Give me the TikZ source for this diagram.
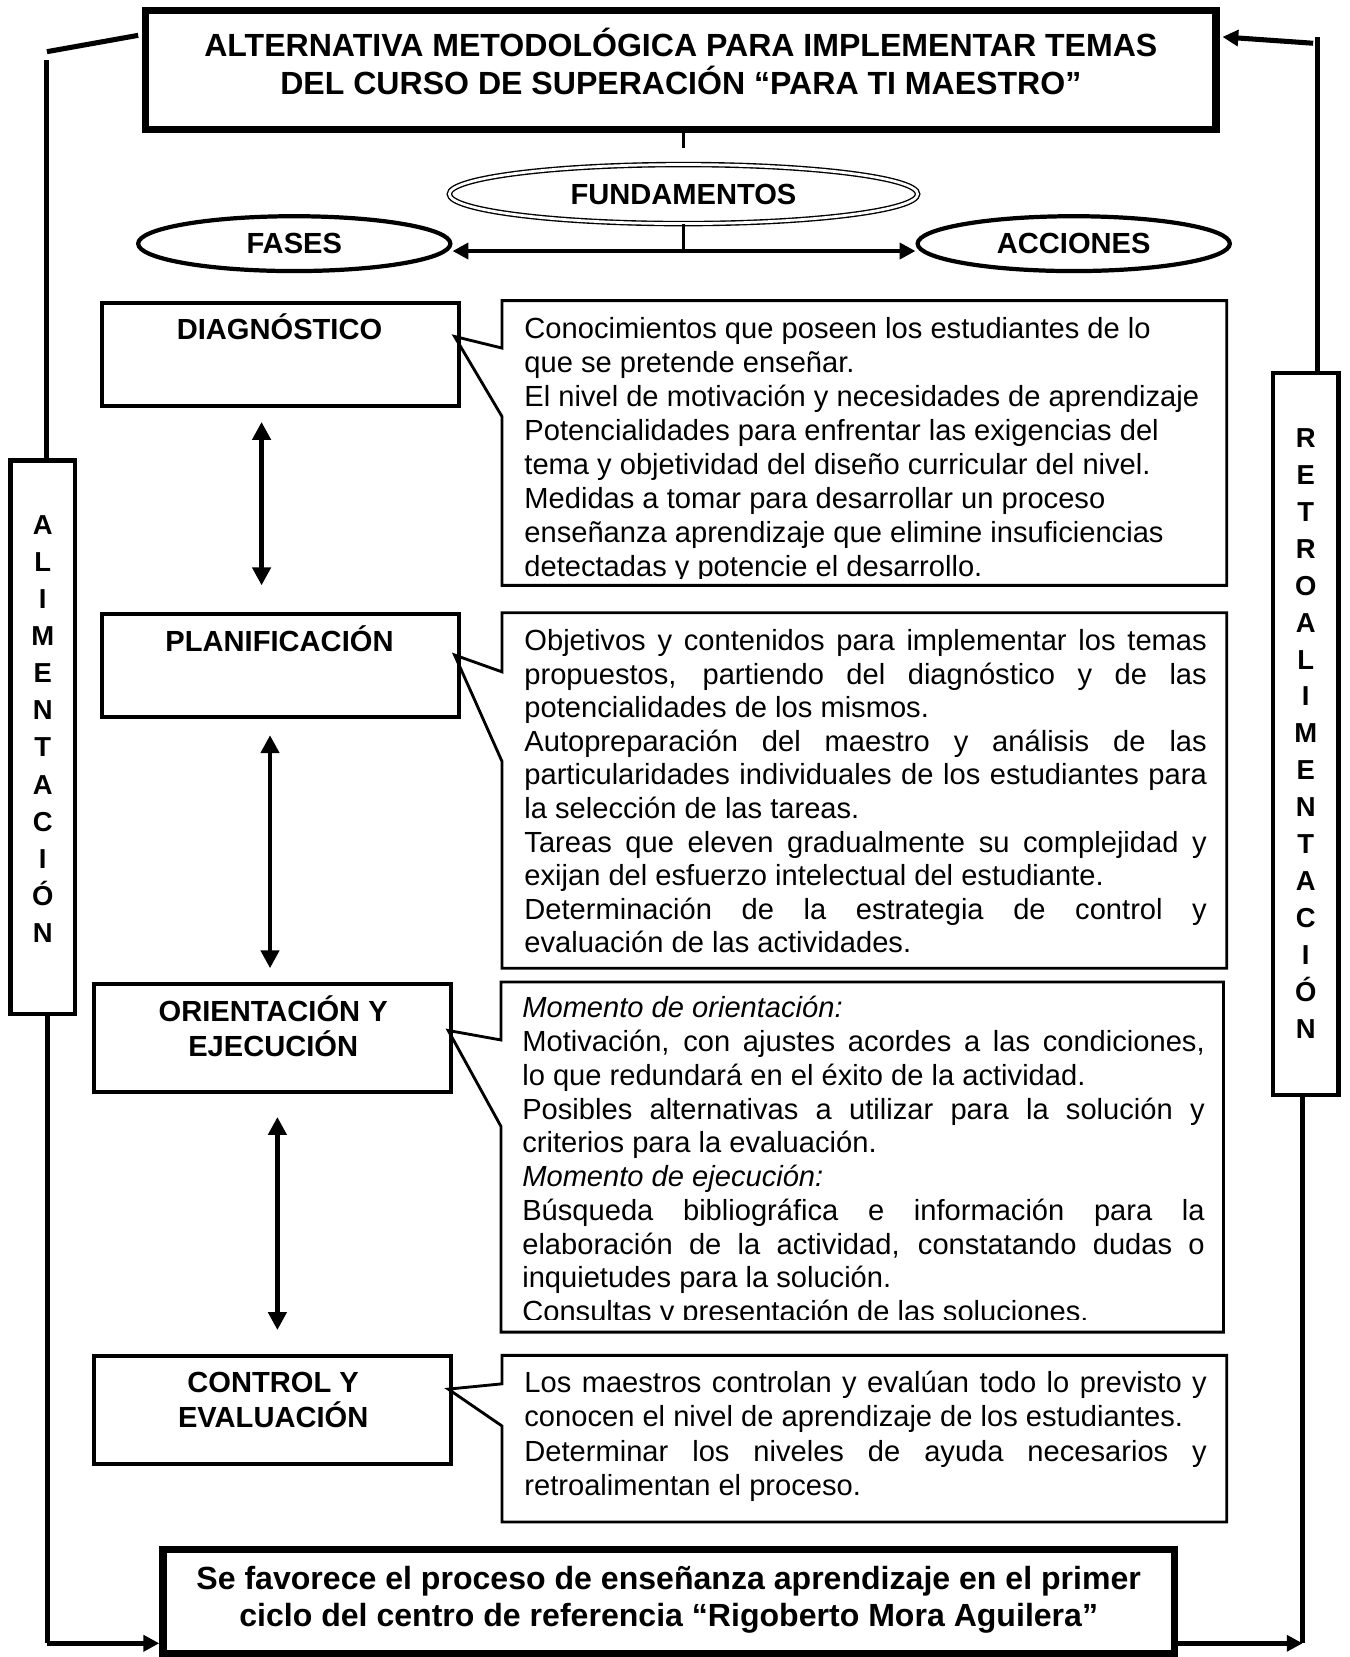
\documentclass[tikz,border=0pt]{standalone}
\usepackage{fontspec}
\setmainfont{Liberation Sans}
\usetikzlibrary{arrows.meta,shapes.geometric}
\newlength\cw
\setlength\cw{647pt}
\newcommand\jl[1]{\hbox to \cw{#1}}
\newcommand\rl[1]{\hbox{#1}}
\newcommand\il[1]{\hbox{\itshape #1}}
\newcommand\cL[1]{\hbox to 0pt{\hss#1\hss}}
\newcommand\bodyfs{\fontsize{27.6pt}{32.2pt}\selectfont}
\newcommand\lblfs{\bfseries\fontsize{27.6pt}{34pt}\selectfont}
\newcommand\ttlfs{\bfseries\fontsize{30.4pt}{36pt}\selectfont}
\newcommand\vfs{\bfseries\fontsize{26pt}{35pt}\selectfont}
\begin{document}
\begin{tikzpicture}[x=1pt,y=-1pt,
  box/.style={draw,line width=3.8pt,inner sep=0pt},
  dbox/.style={draw,line width=6.6pt,inner sep=0pt},
  thinl/.style={line width=1.4pt},
  oval/.style={ellipse,draw,line width=4pt,inner sep=0pt,minimum width=296pt,minimum height=52pt,font=\lblfs},
  lab/.style={anchor=base,inner sep=0pt,font=\lblfs},
  ttl/.style={anchor=base,inner sep=0pt,font=\ttlfs},
  txt/.style={anchor=base west,inner sep=0pt,font=\bodyfs},
  vtxt/.style={anchor=base,inner sep=0pt,font=\vfs},
  callout/.style={draw,line width=2.7pt,line join=miter},
  dar/.style={line width=4.5pt,>={Triangle[length=17pt,width=17pt]},<->},
  fb/.style={line width=4.8pt},
  fbarrow/.style={line width=4.8pt,-{Triangle[length=15pt,width=15pt]}}
]
\useasboundingbox (0,0) rectangle (1279,1571);

% title
\node[dbox,minimum width=1015pt,minimum height=112.7pt] (title) at (645.5,66.4) {};
\draw[thinl] ([shift={(6.2,5.8)}]title.north west) rectangle ([shift={(-6.2,-6.2)}]title.south east);
\node[ttl] (t1) at (645.5,54) {ALTERNATIVA METODOLÓGICA PARA IMPLEMENTAR TEMAS};
\node[ttl] (t2) at (645.5,90) {DEL CURSO DE SUPERACIÓN “PARA TI MAESTRO”};

% fundamentos
\node[ellipse,draw,double,double distance=2.6pt,line width=1.3pt,minimum width=444pt,minimum height=56pt,inner sep=0pt,font=\lblfs] (fund) at (648,184) {FUNDAMENTOS};
\coordinate (fa) at (648,140);
\draw[line width=3pt] (title.south -| fund.north) -- (fa);
\node[oval] (fases) at (279,231) {FASES};
\node[oval] (acc) at (1018,231) {ACCIONES};
\coordinate (fb1) at (648,238);
\draw[line width=3pt] (fund.south) -- (fb1);
\draw[line width=4pt,>={Triangle[length=15pt,width=15pt]},<->] (fases.east |- fb1) -- (acc.west |- fb1);

% phase boxes
\node[box,minimum width=338pt,minimum height=98pt] (b1) at (266,336) {};
\node[box,minimum width=338pt,minimum height=98pt] (b2) at (266,631) {};
\node[box,minimum width=339pt,minimum height=102pt] (b3) at (258.5,984) {};
\node[box,minimum width=339pt,minimum height=102pt] (b4) at (258.5,1337) {};
\node[lab] (l1) at (265,322) {DIAGNÓSTICO};
\node[lab] (l2) at (265,618) {PLANIFICACIÓN};
\node[lab] (l3) at (259,968) {ORIENTACIÓN Y};
\node[lab] (l3b) at (259,1002) {EJECUCIÓN};
\node[lab] (l4) at (259,1320) {CONTROL Y};
\node[lab] (l4b) at (259,1353) {EVALUACIÓN};

% double arrows between phases
\coordinate (a1s) at (248,400); \coordinate (a1e) at (248,555);
\coordinate (a2s) at (256,697); \coordinate (a2e) at (256,918);
\coordinate (a3s) at (263,1059); \coordinate (a3e) at (263,1261);
\draw[dar] (a1s) -- (a1e);
\draw[dar] (a2s) -- (a2e);
\draw[dar] (a3s) -- (a3e);

% callouts
\draw[callout] (476,330) -- (476,285) -- (1163,285) -- (1163,555) -- (476,555) -- (476,395) -- (431,319) -- cycle;
\draw[callout] (476,637) -- (476,581) -- (1163,581) -- (1163,918) -- (476,918) -- (476,722) -- (431,621) -- cycle;
\draw[callout] (475,986) -- (475,931) -- (1160,931) -- (1160,1263) -- (475,1263) -- (475,1068) -- (425,977) -- cycle;
\draw[callout] (476,1312) -- (476,1285) -- (1163,1285) -- (1163,1443) -- (476,1443) -- (476,1352) -- (425,1317) -- cycle;

\begin{scope}
\clip (476,285) rectangle (1163,548);
\node[txt] (c1t) at (497,321) {\vtop{\baselineskip=32.2pt
  \rl{Conocimientos que poseen los estudiantes de lo}
  \rl{que se pretende enseñar.}
  \rl{El nivel de motivación y necesidades de aprendizaje}
  \rl{Potencialidades para enfrentar las exigencias del}
  \rl{tema y objetividad del diseño curricular del nivel.}
  \rl{Medidas a tomar para desarrollar un proceso}
  \rl{enseñanza aprendizaje que elimine insuficiencias}
  \rl{detectadas y potencie el desarrollo.}}};
\end{scope}

\node[txt] (c2t) at (497,617) {\vtop{\baselineskip=31.8pt
  \jl{Objetivos y contenidos para implementar los temas}
  \jl{propuestos, partiendo del diagnóstico y de las}
  \rl{potencialidades de los mismos.}
  \jl{Autopreparación del maestro y análisis de las}
  \jl{particularidades individuales de los estudiantes para}
  \rl{la selección de las tareas.}
  \jl{Tareas que eleven gradualmente su complejidad y}
  \rl{exijan del esfuerzo intelectual del estudiante.}
  \jl{Determinación de la estrategia de control y}
  \rl{evaluación de las actividades.}}};

\begin{scope}
\clip (475,931) rectangle (1160,1251);
\node[txt] (c3t) at (495,965) {\vtop{\baselineskip=32pt
  \il{Momento de orientación:}
  \jl{Motivación, con ajustes acordes a las condiciones,}
  \rl{lo que redundará en el éxito de la actividad.}
  \jl{Posibles alternativas a utilizar para la solución y}
  \rl{criterios para la evaluación.}
  \il{Momento de ejecución:}
  \jl{Búsqueda bibliográfica e información para la}
  \jl{elaboración de la actividad, constatando dudas o}
  \rl{inquietudes para la solución.}
  \rl{Consultas y presentación de las soluciones.}}};
\end{scope}

\node[txt] (c4t) at (497,1320) {\vtop{\baselineskip=32.7pt
  \jl{Los maestros controlan y evalúan todo lo previsto y}
  \rl{conocen el nivel de aprendizaje de los estudiantes.}
  \jl{Determinar los niveles de ayuda necesarios y}
  \rl{retroalimentan el proceso.}}};

% side boxes
\node[box,line width=4pt,minimum width=61pt,minimum height=525pt] (alim) at (40.5,699) {};
\node[vtxt] (alimt) at (40.5,506.5) {\vtop{\baselineskip=35.2pt
  \cL{A}\cL{L}\cL{I}\cL{M}\cL{E}\cL{N}\cL{T}\cL{A}\cL{C}\cL{I}\cL{Ó}\cL{N}}};
\node[box,line width=4pt,minimum width=62pt,minimum height=684pt] (retro) at (1238,696) {};
\node[vtxt] (retrot) at (1238,424.3) {\vtop{\baselineskip=35pt
  \cL{R}\cL{E}\cL{T}\cL{R}\cL{O}\cL{A}\cL{L}\cL{I}\cL{M}\cL{E}\cL{N}\cL{T}\cL{A}\cL{C}\cL{I}\cL{Ó}\cL{N}}};

% bottom box
\node[dbox,minimum width=959.4pt,minimum height=98.7pt] (bottom) at (634,1518.65) {};
\draw[thinl] ([shift={(6.2,6)}]bottom.north west) rectangle ([shift={(-6.2,-6.2)}]bottom.south east);
\node[ttl] (s1) at (634,1507) {Se favorece el proceso de enseñanza aprendizaje en el primer};
\node[ttl] (s2) at (634,1542) {ciclo del centro de referencia “Rigoberto Mora Aguilera”};

% feedback loop
\coordinate (L1) at (44.5,49);
\coordinate (L2) at (131,33.5);
\coordinate (L3) at (44.5,57);
\coordinate (L4) at (45,1558);
\draw[fb] (L1) -- (L2);
\draw[fb] (L3) -- (L3 |- alim.north);
\draw[fb] (alim.south -| L4) -- (L4);
\draw[fbarrow] (L4) -- (bottom.west |- L4);

\coordinate (R0) at (1159,35);
\coordinate (R1) at (1245,41);
\coordinate (R2) at (1249,35);
\coordinate (R3) at (1235,1558);
\draw[fbarrow] (R1) -- (R0);
\draw[fb] (R2) -- (R2 |- retro.north);
\draw[fb] (retro.south -| R3) -- (R3);
\draw[fbarrow] (bottom.east |- R3) -- (R3);
\end{tikzpicture}
\end{document}
